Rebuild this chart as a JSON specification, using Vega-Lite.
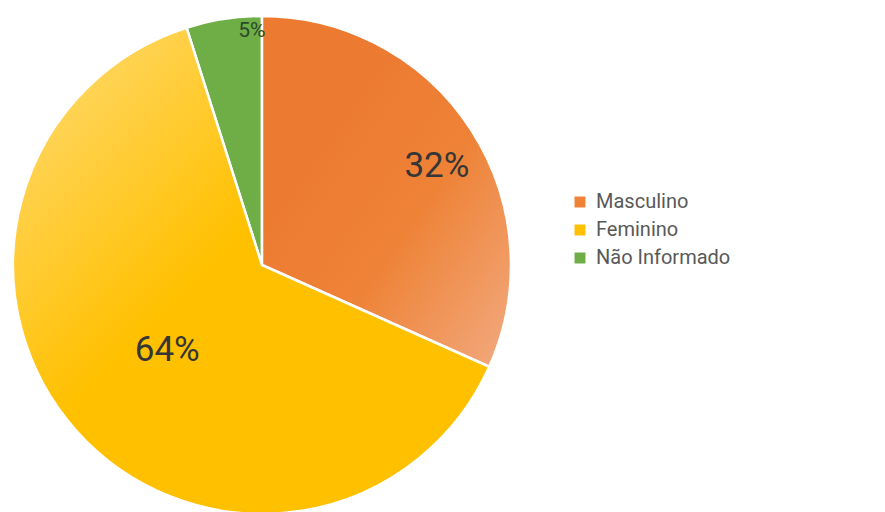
{
  "$schema": "https://vega.github.io/schema/vega-lite/v6.json",
  "width": 524,
  "height": 530,
  "padding": 0,
  "autosize": {"type": "pad"},
  "background": "white",
  "config": {"view": {"stroke": null}, "font": "Roboto"},
  "data": {
    "values": [
      {"categoria": "Masculino", "valor": 31.7, "rotulo": "32%", "ordem": 1},
      {"categoria": "Feminino", "valor": 63.4, "rotulo": "64%", "ordem": 2},
      {"categoria": "Não Informado", "valor": 4.9, "rotulo": "5%", "ordem": 3}
    ]
  },
  "encoding": {
    "theta": {"field": "valor", "type": "quantitative", "stack": true},
    "order": {"field": "ordem", "type": "quantitative"}
  },
  "layer": [
    {
      "mark": {"type": "arc", "outerRadius": 249, "stroke": "white", "strokeWidth": 2.5},
      "encoding": {
        "color": {
          "field": "categoria",
          "type": "nominal",
          "sort": ["Masculino", "Feminino", "Não Informado"],
          "scale": {"domain": ["Masculino", "Feminino", "Não Informado"], "range": ["#EE8236", "#FFC000", "#6FAD47"]},
          "legend": {
            "title": null,
            "orient": "none",
            "legendX": 570,
            "legendY": 192,
            "symbolType": "square",
            "symbolSize": 120,
            "symbolStrokeWidth": 0,
            "labelFontSize": 20,
            "labelColor": "#595959",
            "labelFont": "Roboto",
            "rowPadding": 8,
            "labelOffset": 6
          }
        }
      }
    },
    {
      "mark": {
        "type": "arc", "outerRadius": 249, "stroke": "white", "strokeWidth": 2.5,
        "fill": {"gradient": "linear", "x1": 0.25, "y1": 0.25, "x2": 1, "y2": 1,
          "stops": [{"offset": 0, "color": "#EC7A30"}, {"offset": 0.45, "color": "#EE8236"}, {"offset": 1, "color": "#F2AA80"}]}
      },
      "encoding": {"opacity": {"condition": {"test": "datum.ordem == 1", "value": 1}, "value": 0}}
    },
    {
      "mark": {
        "type": "arc", "outerRadius": 249, "stroke": "white", "strokeWidth": 2.5,
        "fill": {"gradient": "linear", "x1": 0, "y1": 0, "x2": 1, "y2": 1,
          "stops": [{"offset": 0, "color": "#FFDC7A"}, {"offset": 0.45, "color": "#FFC000"}, {"offset": 1, "color": "#FFC000"}]}
      },
      "encoding": {"opacity": {"condition": {"test": "datum.ordem == 2", "value": 1}, "value": 0}}
    },
    {
      "mark": {"type": "text", "radius": 201, "thetaOffset": 0.06, "fontSize": 35, "color": "#363636", "font": "Roboto"},
      "encoding": {"text": {"condition": {"test": "datum.ordem == 1", "field": "rotulo"}, "value": ""}}
    },
    {
      "mark": {"type": "text", "radius": 127, "fontSize": 35, "color": "#363636", "font": "Roboto"},
      "encoding": {"text": {"condition": {"test": "datum.ordem == 2", "field": "rotulo"}, "value": ""}}
    },
    {
      "mark": {"type": "text", "radius": 234, "thetaOffset": 0.11, "fontSize": 21, "color": "#2a4a27", "font": "Roboto"},
      "encoding": {"text": {"condition": {"test": "datum.ordem == 3", "field": "rotulo"}, "value": ""}}
    }
  ]
}
